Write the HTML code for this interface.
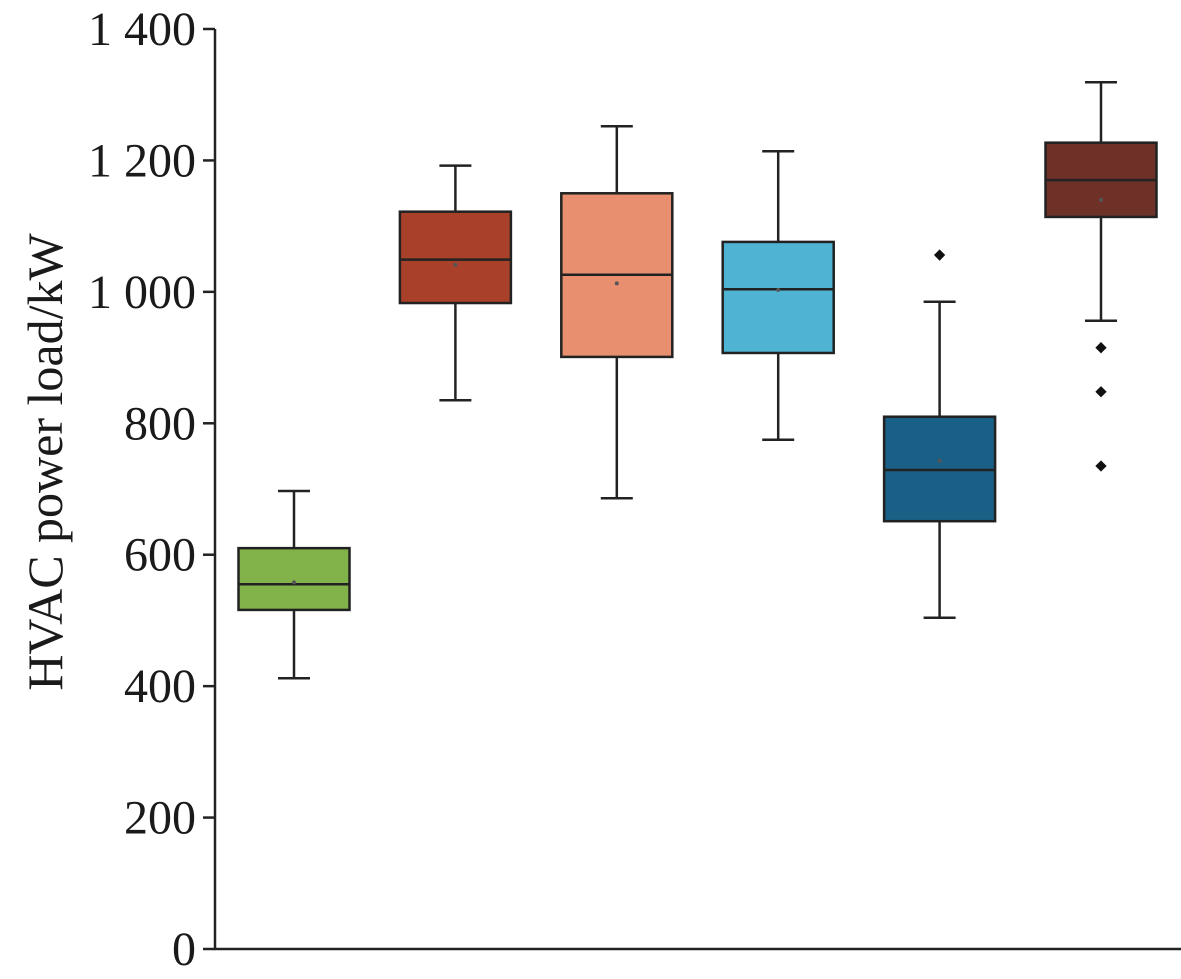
<!DOCTYPE html>
<html><head><meta charset="utf-8"><style>
html,body{margin:0;padding:0;background:#fff;width:1181px;height:979px;overflow:hidden}
svg{display:block}
text{font-family:"Liberation Serif",serif;fill:#1a1a1a}
</style></head><body>
<svg id="chart" width="1181" height="979" viewBox="0 0 1181 979" xmlns="http://www.w3.org/2000/svg"></svg>
<script>
const categories=["g1","g2","g3","g4","g5","g6"];
const colors=["#82b34a","#a9402a","#e88f6f","#4fb3d4","#1a5f86","#6e3128"];
const whiskerLow=[412,835,686,775,504,956];
const q1=[516,983,901,907,651,1114];
const medians=[555,1049,1026,1004,729,1170];
const q3=[610,1122,1150,1076,810,1227];
const whiskerHigh=[697,1192,1252,1214,985,1319];
const means=[558,1041,1013,1003,743,1140];
const outliers=[[],[],[],[],[1056],[915,848,735]];
const yTicks=[0,200,400,600,800,1000,1200,1400];
const yTickLabels=["0","200","400","600","800","1 000","1 200","1 400"];

const svg=document.getElementById('chart');
const NS="http://www.w3.org/2000/svg";
const y=v=>949-v*(920/1400);
const xc=i=>294+i*161.4;
const bw=111;
function mk(t,a,p){const e=document.createElementNS(NS,t);for(const k in a)e.setAttribute(k,a[k]);(p||svg).appendChild(e);return e;}

const axes=mk('g',{});


const ya=mk('line',{x1:215,y1:29,x2:215,y2:949,stroke:'#222','stroke-width':2.5},axes);


const xa=mk('line',{x1:214,y1:949,x2:1181,y2:949,stroke:'#222','stroke-width':2.5},axes);


yTicks.forEach((v,i)=>{
  const t=mk('line',{x1:203,y1:y(v),x2:215,y2:y(v),stroke:'#222','stroke-width':2.5},axes);
  
  
  const l=mk('text',{x:196,y:y(v)+16,'text-anchor':'end','font-size':48},axes);
  
  
  l.textContent=yTickLabels[i];
});
const title=mk('text',{x:0,y:0,'text-anchor':'middle','font-size':50,transform:'translate(62,462) rotate(-90)'});


title.textContent='HVAC power load/kW';

categories.forEach((c,i)=>{
  const g=mk('g',{});
  
  
  const cx=xc(i);
  const s={stroke:'#222','stroke-width':2.5};
  mk('line',Object.assign({x1:cx,y1:y(whiskerHigh[i]),x2:cx,y2:y(q3[i])},s),g);
  mk('line',Object.assign({x1:cx,y1:y(q1[i]),x2:cx,y2:y(whiskerLow[i])},s),g);
  mk('line',Object.assign({x1:cx-16,y1:y(whiskerHigh[i]),x2:cx+16,y2:y(whiskerHigh[i])},s),g);
  mk('line',Object.assign({x1:cx-16,y1:y(whiskerLow[i]),x2:cx+16,y2:y(whiskerLow[i])},s),g);
  const r=mk('rect',Object.assign({x:cx-bw/2,y:y(q3[i]),width:bw,height:y(q1[i])-y(q3[i]),fill:colors[i]},s),g);
  
  
  const m=mk('line',Object.assign({x1:cx-bw/2,y1:y(medians[i]),x2:cx+bw/2,y2:y(medians[i])},s),g);
  
  
  const mn=mk('circle',{cx:cx,cy:y(means[i]),r:2,fill:'#555'},g);
  
  
  outliers[i].forEach(o=>{
    const d=mk('rect',{x:cx-4,y:y(o)-4,width:8,height:8,fill:'#111',transform:`rotate(45 ${cx} ${y(o)})`},g);
    
    
  });
});
</script>
</body></html>
